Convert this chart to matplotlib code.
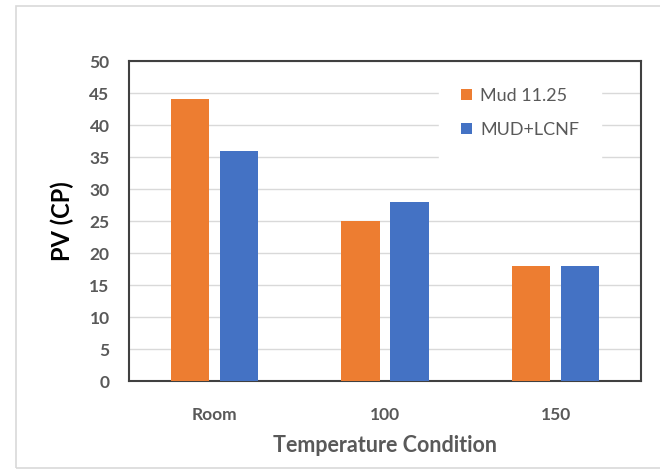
import matplotlib
matplotlib.use("Agg")
import matplotlib.pyplot as plt
import numpy as np
from matplotlib.patches import Rectangle

categories = ["Room", "100", "150"]
mud = [44, 25, 18]
mud_lcnf = [36, 28, 18]
series_names = ["Mud 11.25", "MUD+LCNF"]
yticks = list(range(0, 51, 5))

plt.rcParams['font.family'] = ['Lato', 'DejaVu Sans']

fig = plt.figure(figsize=(6.6, 4.7), dpi=100)
fig.patches.append(Rectangle((16/660, 2/470), 1.0, 462/470, transform=fig.transFigure,
                             fill=False, edgecolor='#d9d9d9', linewidth=1.2))
ax = fig.add_axes([129/660, 1-381/470, (641-129)/660, (381-61)/470])

x = np.arange(len(categories))
w = 0.223
off = (w + 0.064) / 2
ax.bar(x - off, mud, w, color='#ed7d31', label=series_names[0], zorder=3)
ax.bar(x + off, mud_lcnf, w, color='#4472c4', label=series_names[1], zorder=3)

ax.set_xlim(-0.5, 2.5)
ax.set_ylim(0, 50)
ax.set_yticks(yticks)
ax.set_xticks(x)
ax.set_xticklabels(categories)
ax.yaxis.grid(True, color='#d9d9d9', linewidth=1, zorder=0)
ax.set_axisbelow(True)
for s in ax.spines.values():
    s.set_color('#404040')
    s.set_linewidth(1.5)
ax.tick_params(length=0, labelsize=12.5, labelcolor='#595959')
ax.tick_params(axis='y', pad=14)
ax.tick_params(axis='x', pad=19)
for lab in ax.get_xticklabels() + ax.get_yticklabels():
    lab.set_fontweight('bold')

ax.set_ylabel("PV (CP)", fontsize=17, fontweight='bold', color='black', labelpad=11)
ax.set_xlabel("Temperature Condition", fontsize=15.5, fontweight='bold', color='#595959', labelpad=8)

leg = ax.legend(loc='upper right', bbox_to_anchor=(0.9, 0.95), frameon=True, fontsize=13,
                handlelength=0.6, handleheight=0.6, labelspacing=1.0, handletextpad=0.45,
                borderpad=0.6, borderaxespad=0)
leg.get_frame().set_facecolor('white')
leg.get_frame().set_edgecolor('white')
leg.get_frame().set_alpha(1)
leg.get_frame().set_boxstyle('square', pad=0.6)
for t in leg.get_texts():
    t.set_color('#595959')

fig.savefig("out.png", dpi=100)
